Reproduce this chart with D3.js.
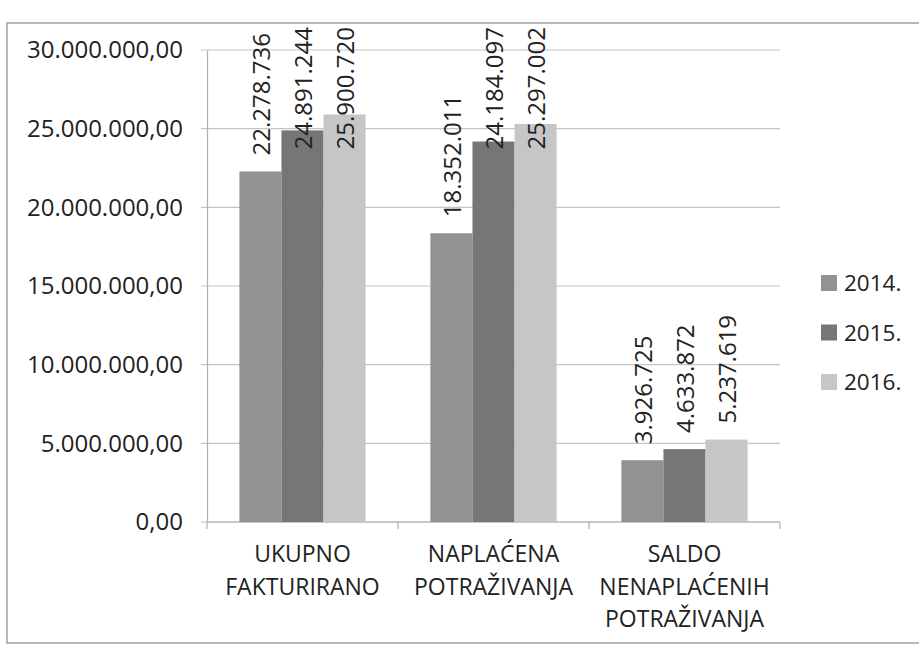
<!DOCTYPE html>
<html>
<head>
<meta charset="utf-8">
<script src="https://cdn.jsdelivr.net/npm/d3@7"></script>
<style>
  body { margin: 0; background: #fff; }
  text { font-family: "Open Sans", "DejaVu Sans", sans-serif; fill: #222; }
</style>
</head>
<body>
<script>
// data
var categories = [
  ["UKUPNO", "FAKTURIRANO"],
  ["NAPLAĆENA", "POTRAŽIVANJA"],
  ["SALDO", "NENAPLAĆENIH", "POTRAŽIVANJA"]
];
var years = ["2014.", "2015.", "2016."];
var values2014 = [22278736, 18352011, 3926725];
var values2015 = [24891244, 24184097, 4633872];
var values2016 = [25900720, 25297002, 5237619];
var yTicks = [0, 5000000, 10000000, 15000000, 20000000, 25000000, 30000000];

var series = [values2014, values2015, values2016];
var colors = ["#929292", "#767676", "#c6c6c6"];

var svgWidth = 919, svgHeight = 648;
var margin = {top: 50, left: 207, right: 139, bottom: 126};
var width = svgWidth - margin.left - margin.right;
var height = svgHeight - margin.top - margin.bottom;

var loc = d3.formatLocale({decimal: ",", thousands: ".", grouping: [3], currency: ["", ""]});
var tickFmt = loc.format(",.2f");
var labelFmt = loc.format(",d");

var svg = d3.select("body").append("svg")
  .attr("width", svgWidth)
  .attr("height", svgHeight);

// chart border
svg.append("rect")
  .attr("x", 7).attr("y", 23)
  .attr("width", 940).attr("height", 620)
  .attr("fill", "none")
  .attr("stroke", "#a0a0a0")
  .attr("stroke-width", 1.5);

var chartGroup = svg.append("g")
  .attr("transform", "translate(" + margin.left + "," + margin.top + ")");

var catIdx = categories.map((c, i) => i);
var x0 = d3.scaleBand().domain(catIdx).range([0, width]);
var x1 = d3.scaleBand().domain([0, 1, 2]).range([0, x0.bandwidth()]).paddingOuter(0.77);
var y = d3.scaleLinear().domain([0, 30000000]).range([height, 0]);

// gridlines
chartGroup.append("g").selectAll("line")
  .data(yTicks)
  .enter().append("line")
  .attr("x1", -6).attr("x2", width)
  .attr("y1", d => y(d)).attr("y2", d => y(d))
  .attr("stroke", "#c4c4c4")
  .attr("stroke-width", 1.2);

// y axis
var leftAxis = d3.axisLeft(y).tickValues(yTicks).tickFormat(tickFmt).tickSize(0).tickPadding(24);
var yAxis = chartGroup.append("g").call(leftAxis);
yAxis.select(".domain").attr("stroke", "#b0b0b0").attr("stroke-width", 1.2);
yAxis.selectAll("text").attr("font-size", "24px").attr("fill", "#222")
  .style("font-family", '"Open Sans", sans-serif');

// x axis with boundary ticks
var xAxisG = chartGroup.append("g").attr("transform", "translate(0," + height + ")");
xAxisG.append("line").attr("x1", 0).attr("x2", width).attr("stroke", "#b0b0b0").attr("stroke-width", 1.2);
xAxisG.selectAll(".bt")
  .data(catIdx.concat([categories.length]))
  .enter().append("line")
  .attr("x1", d => d * x0.step()).attr("x2", d => d * x0.step())
  .attr("y1", 0).attr("y2", 7)
  .attr("stroke", "#b0b0b0").attr("stroke-width", 1.2);

// category labels
categories.forEach(function(lines, i) {
  var t = xAxisG.append("text")
    .attr("text-anchor", "middle")
    .attr("font-size", "23px");
  lines.forEach(function(line, j) {
    t.append("tspan")
      .attr("x", x0(i) + x0.bandwidth() / 2)
      .attr("y", 40 + j * 32.5)
      .text(line);
  });
});

// bars
var barData = [];
series.forEach(function(vals, s) {
  vals.forEach(function(v, c) { barData.push({s: s, c: c, v: v}); });
});

chartGroup.selectAll(".bar")
  .data(barData)
  .enter().append("rect")
  .attr("class", "bar")
  .attr("x", d => x0(d.c) + x1(d.s))
  .attr("y", d => y(d.v))
  .attr("width", x1.bandwidth())
  .attr("height", d => height - y(d.v))
  .attr("fill", d => colors[d.s]);

// value labels, rotated, kept inside the chart area
var labels = chartGroup.selectAll(".vlabel")
  .data(barData)
  .enter().append("text")
  .attr("class", "vlabel")
  .attr("font-size", "24px")
  .attr("dominant-baseline", "central")
  .text(d => labelFmt(d.v));

labels.each(function(d) {
  var L = this.getComputedTextLength();
  var bottom = y(d.v) - 16;
  var minTop = 27 - margin.top;
  if (bottom - L < minTop) bottom = minTop + L;
  var cx = x0(d.c) + x1(d.s) + x1.bandwidth() / 2;
  d3.select(this).attr("transform", "translate(" + cx + "," + bottom + ") rotate(-90)");
});

// legend
var legend = svg.append("g").selectAll("g")
  .data(years)
  .enter().append("g")
  .attr("transform", (d, i) => "translate(821," + (283 + i * 49.5) + ")");
legend.append("rect")
  .attr("x", 0).attr("y", -8)
  .attr("width", 16).attr("height", 16)
  .attr("fill", (d, i) => colors[i]);
legend.append("text")
  .attr("x", 23)
  .attr("dy", "0.36em")
  .attr("font-size", "22.5px")
  .text(d => d);
</script>
</body>
</html>
